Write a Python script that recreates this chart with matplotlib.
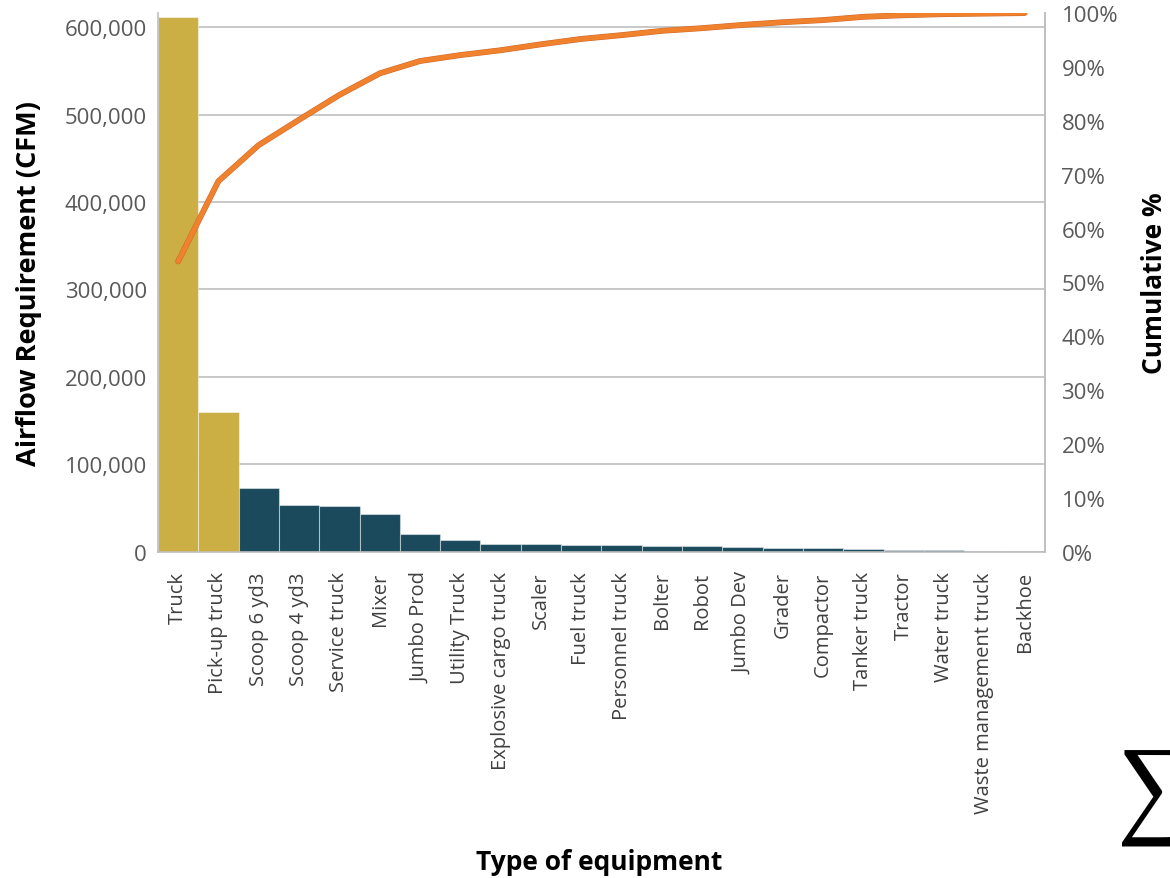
import matplotlib.pyplot as plt
import matplotlib.patheffects as pe
from matplotlib.ticker import FuncFormatter, MultipleLocator
import numpy as np

equipment = ['Truck', 'Pick-up truck', 'Scoop 6 yd3', 'Scoop 4 yd3', 'Service truck',
             'Mixer', 'Jumbo Prod', 'Utility Truck', 'Explosive cargo truck', 'Scaler',
             'Fuel truck', 'Personnel truck', 'Bolter', 'Robot', 'Jumbo Dev', 'Grader',
             'Compactor', 'Tanker truck', 'Tractor', 'Water truck',
             'Waste management truck', 'Backhoe']
airflow = [611000, 160000, 73500, 53700, 53000, 43000, 21000, 13400, 9000, 9000,
           8000, 7500, 7200, 6500, 5700, 5000, 4600, 3400, 2700, 1900, 1500, 1000]
cumulative = [53.9, 68.8, 75.5, 80.2, 84.8, 88.8, 91.1, 92.2, 93.1, 94.2,
              95.2, 95.9, 96.7, 97.2, 97.8, 98.3, 98.7, 99.3, 99.6, 99.8, 99.9, 100.0]

gold = '#CBAF45'
teal = '#1B4A5C'
grid_gray = '#BFBFBF'
text_gray = '#595959'

plt.rcParams['font.family'] = ['Open Sans', 'DejaVu Sans']

fig = plt.figure(figsize=(11.7, 8.79), dpi=100)
ax = fig.add_axes([0.135, 0.371, 0.758, 0.613])

x = np.arange(len(equipment))
colors = [gold, gold] + [teal] * (len(equipment) - 2)
ax.bar(x, airflow, width=1.0, color=colors, edgecolor=(1, 1, 1, 0.45), linewidth=0.8, zorder=2)

ax.set_xlim(-0.5, len(equipment) - 0.5)
ax.set_ylim(0, 616000)
ax.yaxis.set_major_locator(MultipleLocator(100000))
ax.yaxis.set_major_formatter(FuncFormatter(lambda v, p: f'{int(v):,}'))
ax.grid(axis='y', color=grid_gray, linewidth=1.2, zorder=0)
ax.set_axisbelow(True)

ax.set_xticks(x)
ax.set_xticklabels(equipment, rotation=90, fontsize=14.5, color='#404040')
ax.tick_params(axis='both', length=0)
ax.tick_params(axis='y', labelsize=16, labelcolor=text_gray, pad=8)
ax.tick_params(axis='x', pad=14)

for side in ['left', 'bottom', 'right']:
    ax.spines[side].set_color(grid_gray)
    ax.spines[side].set_linewidth(1.2)
ax.spines['top'].set_visible(False)

ax.set_ylabel('Airflow Requirement (CFM)', fontsize=19.5, fontweight='bold')
ax.yaxis.set_label_coords(-0.131, 0.5)
ax.set_xlabel('Type of equipment', fontsize=19, fontweight='bold')
ax.xaxis.set_label_coords(0.498, -0.549)

# cumulative share on the secondary axis
ax2 = ax.twinx()
ax2.set_ylim(0, 100)
ax2.yaxis.set_major_locator(MultipleLocator(10))
ax2.yaxis.set_major_formatter(FuncFormatter(lambda v, p: f'{int(v)}%'))
ax2.tick_params(axis='y', length=0, labelsize=16, labelcolor=text_gray, pad=12)
for side in ['left', 'bottom', 'top']:
    ax2.spines[side].set_visible(False)
ax2.spines['right'].set_color(grid_gray)
ax2.spines['right'].set_linewidth(1.2)
ax2.plot(x, cumulative, color='#F0822E', linewidth=3.4, solid_capstyle='round',
         path_effects=[pe.Stroke(linewidth=4.2, foreground='#D06A2C'), pe.Normal()], zorder=3)
ax2.set_ylabel('Cumulative %', fontsize=19, fontweight='bold')
ax2.yaxis.set_label_coords(1.108, 0.5)

fig.text(0.955, 0.093, '\u2211', fontsize=80, family=['Liberation Serif', 'DejaVu Serif'],
         color='black', ha='left', va='center')

fig.savefig('out.png', dpi=100)
